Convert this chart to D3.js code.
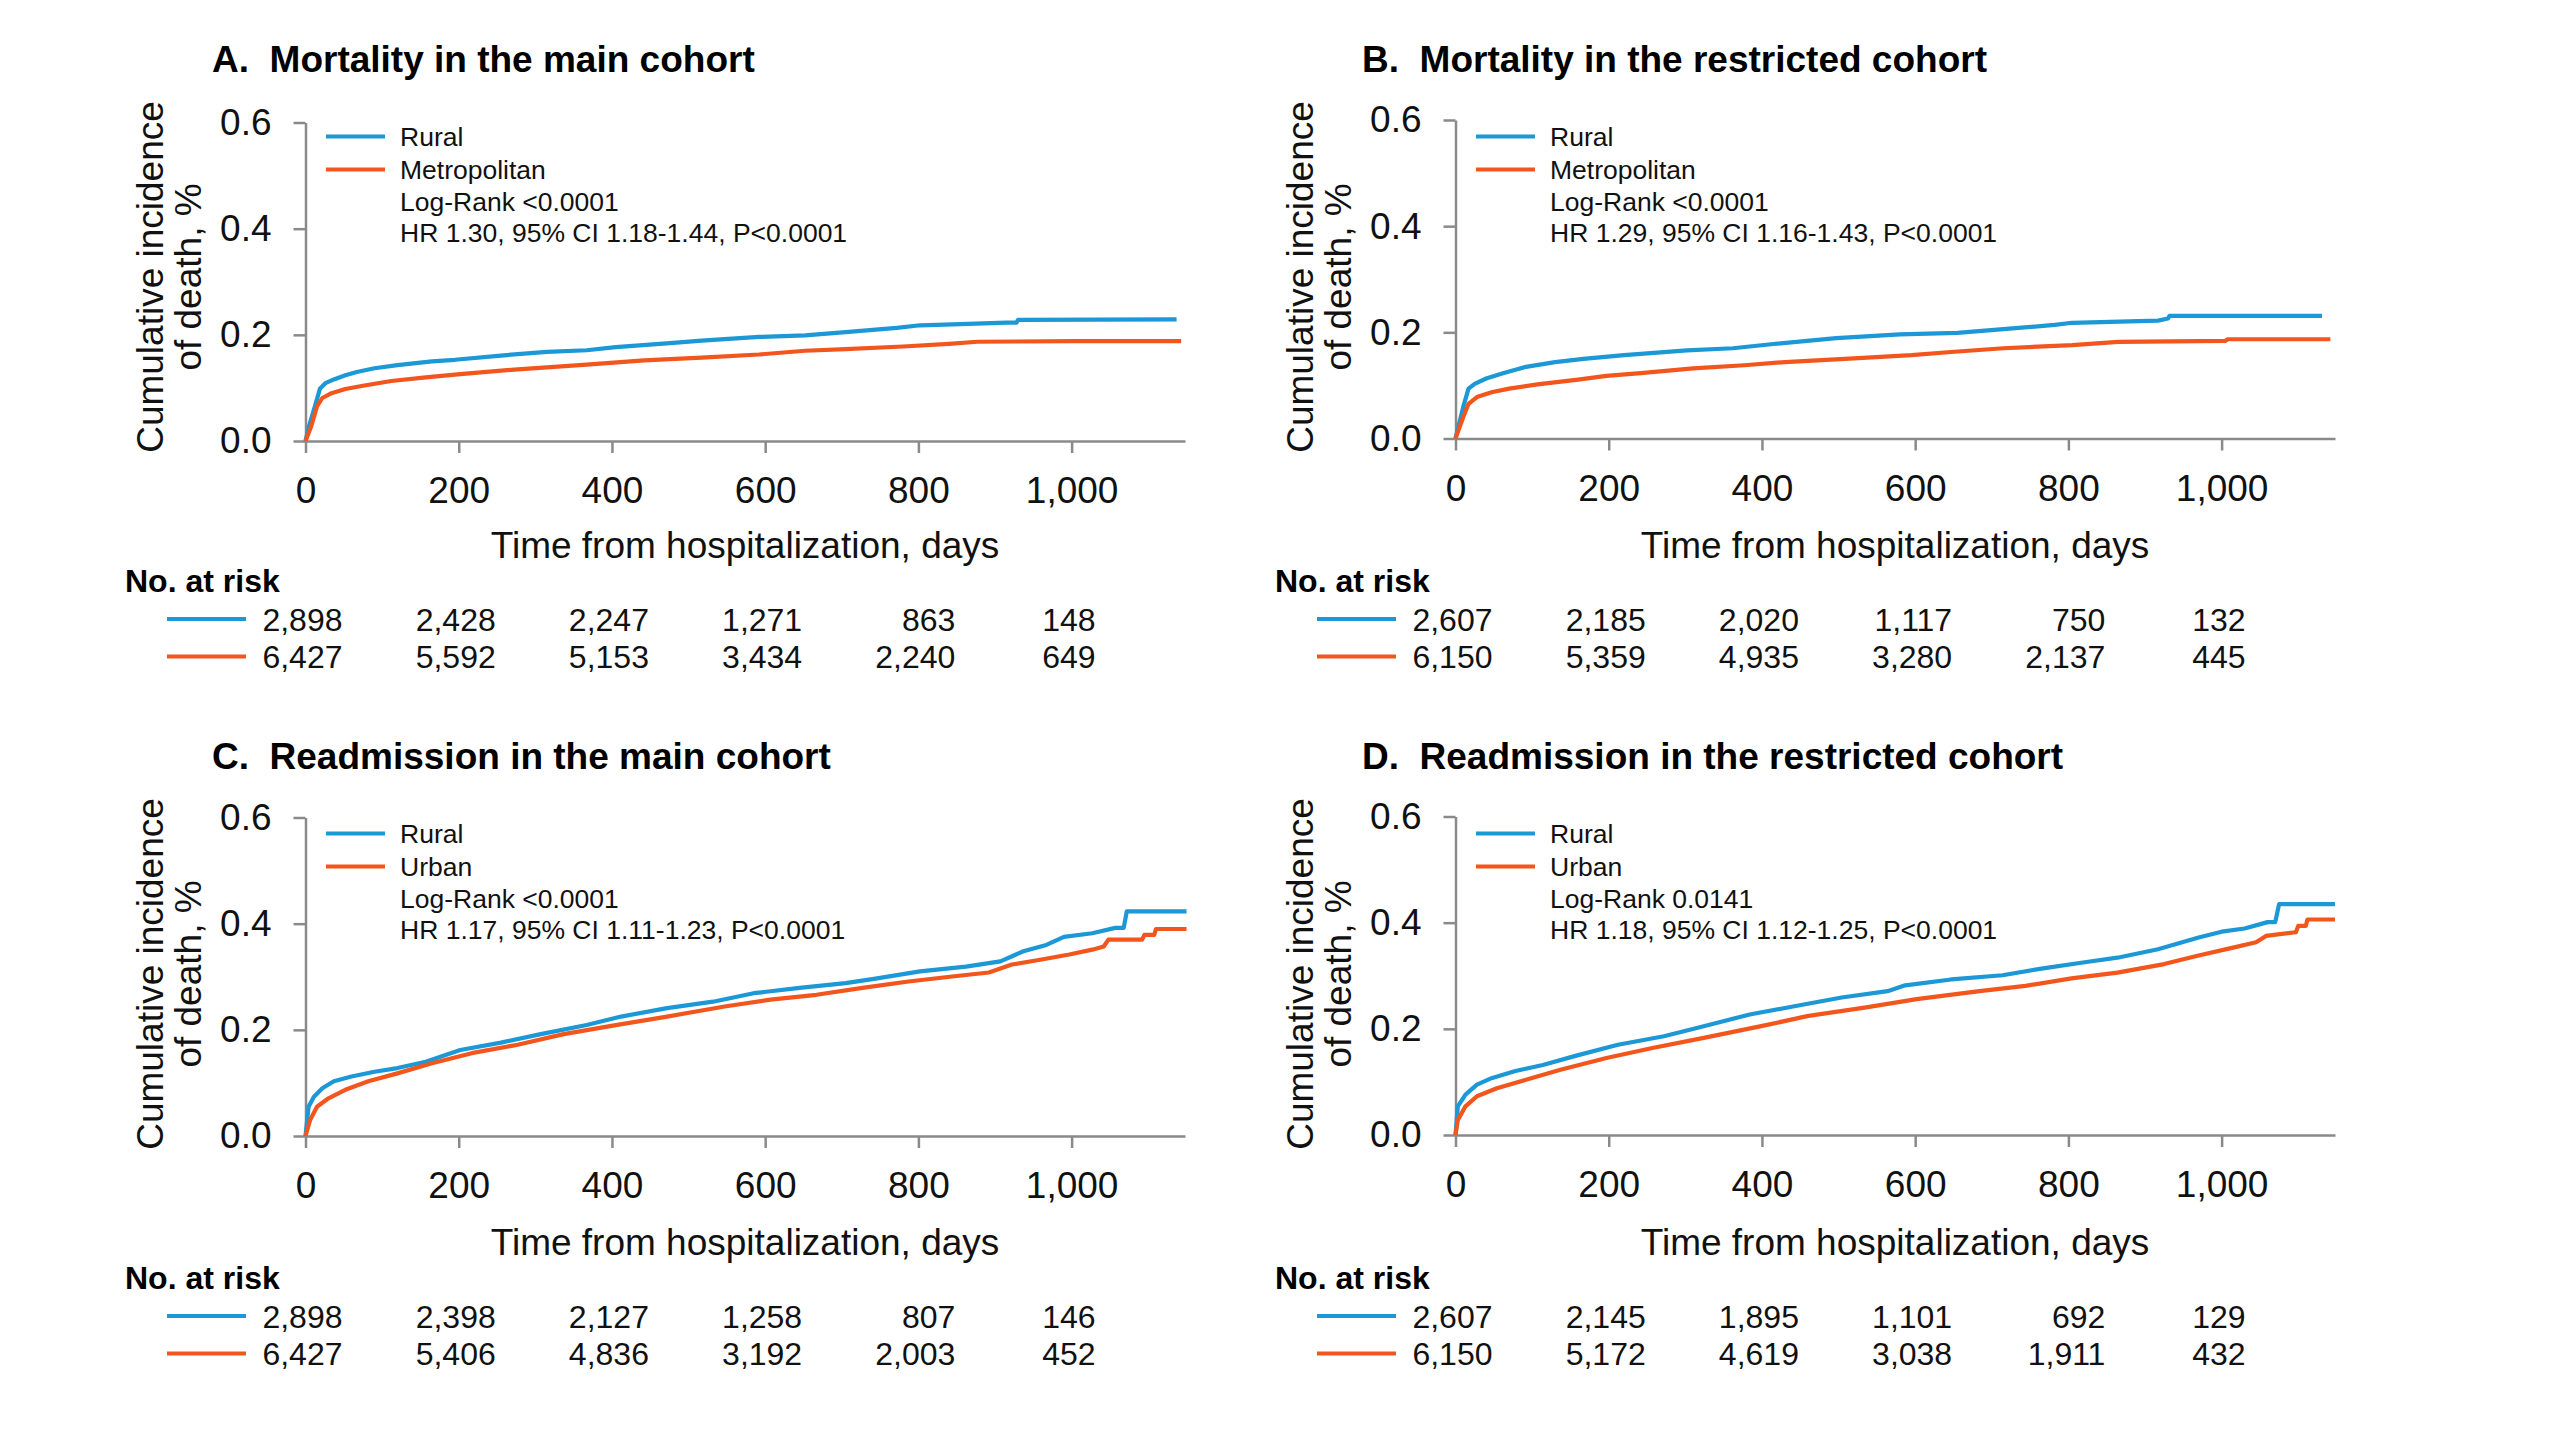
<!DOCTYPE html>
<html><head><meta charset="utf-8">
<script src="https://cdn.jsdelivr.net/npm/d3@7"></script>
<style>
html,body{margin:0;padding:0;background:#fff;}
svg{display:block;font-family:"Liberation Sans",Arial,Helvetica,sans-serif;}
</style></head><body>
<svg id="chart" width="2560" height="1440"></svg>
<script>
// ---------------- DATA ----------------
const panelTitles = [
  "A.\u00a0\u00a0Mortality in the main cohort",
  "B.\u00a0\u00a0Mortality in the restricted cohort",
  "C.\u00a0\u00a0Readmission in the main cohort",
  "D.\u00a0\u00a0Readmission in the restricted cohort"
];
const yTitleLines = ["Cumulative incidence", "of death, %"];
const xTitle = "Time from hospitalization, days";
const yTicks = [0, 0.2, 0.4, 0.6];
const xTicks = [0, 200, 400, 600, 800, 1000];
const riskTitle = "No. at risk";
const seriesNamesMortality = ["Rural", "Metropolitan"];
const seriesNamesReadmission = ["Rural", "Urban"];
const logRankTexts = ["Log-Rank <0.0001", "Log-Rank <0.0001", "Log-Rank <0.0001", "Log-Rank 0.0141"];
const hrTexts = [
  "HR 1.30, 95% CI 1.18-1.44, P<0.0001",
  "HR 1.29, 95% CI 1.16-1.43, P<0.0001",
  "HR 1.17, 95% CI 1.11-1.23, P<0.0001",
  "HR 1.18, 95% CI 1.12-1.25, P<0.0001"
];
const riskRural = [
  ["2,898","2,428","2,247","1,271","863","148"],
  ["2,607","2,185","2,020","1,117","750","132"],
  ["2,898","2,398","2,127","1,258","807","146"],
  ["2,607","2,145","1,895","1,101","692","129"]
];
const riskUrban = [
  ["6,427","5,592","5,153","3,434","2,240","649"],
  ["6,150","5,359","4,935","3,280","2,137","445"],
  ["6,427","5,406","4,836","3,192","2,003","452"],
  ["6,150","5,172","4,619","3,038","1,911","432"]
];
// curves: [day, cumulative incidence]
const mortMainRural = [[0,0],[5,0.03],[11,0.059],[19,0.099],[26,0.109],[37,0.116],[52,0.124],[67,0.130],[90,0.137],[120,0.143],[165,0.150],[195,0.153],[255,0.161],[315,0.168],[367,0.171],[405,0.177],[480,0.185],[517,0.189],[592,0.196],[652,0.199],[705,0.205],[772,0.213],[802,0.218],[855,0.220],[915,0.223],[928,0.223],[930,0.228],[1137,0.229]];
const mortMainMetro = [[0,0],[7.5,0.028],[15,0.065],[22,0.081],[34,0.090],[52,0.098],[75,0.104],[112,0.113],[157,0.120],[202,0.126],[277,0.135],[367,0.144],[442,0.152],[517,0.157],[592,0.163],[652,0.170],[705,0.173],[780,0.178],[840,0.183],[877,0.187],[1004,0.188],[1143,0.188]];
const mortRestRural = [[0,0],[10,0.059],[17,0.094],[25,0.103],[40,0.113],[62,0.123],[92,0.135],[130,0.144],[167,0.150],[220,0.157],[302,0.166],[362,0.170],[415,0.178],[497,0.189],[580,0.196],[655,0.199],[715,0.206],[782,0.214],[805,0.218],[917,0.222],[930,0.226],[932,0.231],[1131,0.231]];
const mortRestMetro = [[0,0],[10,0.040],[17,0.065],[28,0.078],[47,0.087],[70,0.094],[107,0.102],[160,0.111],[197,0.118],[242,0.123],[310,0.132],[377,0.138],[430,0.144],[520,0.151],[595,0.157],[647,0.163],[715,0.170],[805,0.176],[865,0.182],[1005,0.184],[1008,0.187],[1142,0.187]];
const readMainRural = [[0,0],[4,0.055],[11,0.074],[22,0.090],[37,0.103],[60,0.112],[90,0.121],[120,0.128],[157,0.140],[202,0.162],[255,0.176],[307,0.192],[367,0.209],[412,0.225],[472,0.241],[532,0.253],[585,0.269],[645,0.279],[705,0.288],[742,0.296],[802,0.310],[862,0.319],[907,0.329],[937,0.348],[967,0.360],[990,0.375],[1027,0.382],[1057,0.392],[1068,0.392],[1072,0.423],[1150,0.423]];
const readMainUrban = [[0,0],[6,0.030],[15,0.055],[30,0.071],[52,0.087],[82,0.103],[120,0.118],[165,0.137],[217,0.156],[277,0.172],[337,0.192],[405,0.209],[472,0.225],[547,0.244],[607,0.257],[667,0.266],[727,0.279],[787,0.291],[847,0.301],[892,0.308],[922,0.323],[959,0.332],[997,0.342],[1027,0.351],[1042,0.357],[1048,0.370],[1092,0.370],[1095,0.379],[1108,0.379],[1110,0.390],[1150,0.390]];
const readRestRural = [[0,0],[3,0.054],[13,0.076],[28,0.095],[47,0.107],[77,0.120],[114,0.132],[159,0.150],[212,0.170],[272,0.186],[324,0.205],[384,0.227],[444,0.243],[504,0.259],[564,0.271],[587,0.282],[647,0.293],[714,0.301],[767,0.314],[819,0.325],[864,0.334],[917,0.350],[970,0.372],[1000,0.383],[1030,0.389],[1060,0.401],[1070,0.401],[1075,0.435],[1148,0.435]];
const readRestUrban = [[0,0],[3,0.028],[13,0.054],[28,0.073],[54,0.088],[92,0.104],[137,0.123],[197,0.145],[257,0.164],[324,0.183],[399,0.205],[459,0.224],[534,0.240],[602,0.256],[684,0.271],[744,0.281],[804,0.295],[864,0.306],[925,0.322],[970,0.338],[1015,0.353],[1045,0.363],[1058,0.375],[1097,0.382],[1100,0.394],[1110,0.394],[1112,0.406],[1148,0.406]];

// ---------------- LAYOUT / STYLE ----------------
const COLORS = ["#1b98d5", "#f2561d"];
const AXIS_COLOR = "#8a8a8a";
const panels = [
  {dx:0,    dy:0,   y0:441,   names:seriesNamesMortality,   curves:[mortMainRural, mortMainMetro]},
  {dx:1150, dy:0,   y0:438.5, names:seriesNamesMortality,   curves:[mortRestRural, mortRestMetro]},
  {dx:0,    dy:697, y0:439,   names:seriesNamesReadmission, curves:[readMainRural, readMainUrban]},
  {dx:1150, dy:697, y0:438,   names:seriesNamesReadmission, curves:[readRestRural, readRestUrban]}
];

const svg = d3.select("#chart");
svg.append("rect").attr("width",2560).attr("height",1440).attr("fill","#fff");

const x = d3.scaleLinear().domain([0, 1148]).range([305.5, 1185]);
const fmtY = d3.format(".1f");
const fmtX = d3.format(",");

panels.forEach((p, i) => {
  const g = svg.append("g").attr("transform", `translate(${p.dx},${p.dy})`);
  const y = d3.scaleLinear().domain([0, 0.6]).range([p.y0, p.y0 - 318.5]);

  // title
  g.append("text").attr("x", 212).attr("y", 72)
    .attr("font-size", 37).attr("font-weight", "bold").attr("fill", "#000")
    .text(panelTitles[i]);

  // y title
  yTitleLines.forEach((t, k) => {
    g.append("text")
      .attr("transform", `translate(${162.5 + k*38},277) rotate(-90)`)
      .attr("text-anchor", "middle").attr("font-size", 37).attr("fill", "#111")
      .text(t);
  });

  // axes
  const yAxis = d3.axisLeft(y).tickValues(yTicks).tickFormat(fmtY)
    .tickSize(12).tickPadding(22).tickSizeOuter(0);
  const gy = g.append("g").attr("transform", `translate(${x(0)},0)`).call(yAxis);
  const xAxis = d3.axisBottom(x).tickValues(xTicks).tickFormat(fmtX)
    .tickSize(12).tickPadding(24).tickSizeOuter(0);
  const gx = g.append("g").attr("transform", `translate(0,${p.y0})`).call(xAxis);
  [gx, gy].forEach(a => {
    a.select(".domain").attr("stroke", AXIS_COLOR).attr("stroke-width", 2.5);
    a.selectAll(".tick line").attr("stroke", AXIS_COLOR).attr("stroke-width", 2.5);
    a.selectAll(".tick text").attr("font-size", 37).attr("fill", "#111")
      .attr("font-family", '"Liberation Sans",Arial,Helvetica,sans-serif');
  });

  // x title
  g.append("text").attr("x", 745).attr("y", 558).attr("text-anchor", "middle")
    .attr("font-size", 37).attr("fill", "#111").text(xTitle);

  // curves
  const line = d3.line().x(d => x(d[0])).y(d => y(d[1])).curve(d3.curveLinear);
  p.curves.forEach((c, k) => {
    g.append("path").datum(c).attr("d", line)
      .attr("fill", "none").attr("stroke", COLORS[k]).attr("stroke-width", 4.2)
      .attr("stroke-linejoin", "round");
  });

  // legend
  const legY = [136.5, 169.5];
  p.names.forEach((n, k) => {
    g.append("line").attr("x1", 326).attr("x2", 385).attr("y1", legY[k]).attr("y2", legY[k])
      .attr("stroke", COLORS[k]).attr("stroke-width", 4.2);
    g.append("text").attr("x", 400).attr("y", legY[k] + 9.5)
      .attr("font-size", 26.5).attr("fill", "#111").text(n);
  });
  g.append("text").attr("x", 400).attr("y", 210.5).attr("font-size", 26.5).attr("fill", "#111").text(logRankTexts[i]);
  g.append("text").attr("x", 400).attr("y", 242).attr("font-size", 26.5).attr("fill", "#111").text(hrTexts[i]);

  // risk table
  g.append("text").attr("x", 125).attr("y", 591.5).attr("font-size", 32)
    .attr("font-weight", "bold").attr("fill", "#000").text(riskTitle);
  const rowY = [619, 656.5];
  [riskRural[i], riskUrban[i]].forEach((row, k) => {
    g.append("line").attr("x1", 167).attr("x2", 246).attr("y1", rowY[k]).attr("y2", rowY[k])
      .attr("stroke", COLORS[k]).attr("stroke-width", 4.2);
    g.selectAll(null).data(row).enter().append("text")
      .attr("x", (d, j) => x(xTicks[j]) + (j === 5 ? 24 : 37))
      .attr("y", rowY[k] + 11.5)
      .attr("text-anchor", "end").attr("font-size", 32).attr("fill", "#111")
      .text(d => d);
  });
});
</script>
</body></html>
